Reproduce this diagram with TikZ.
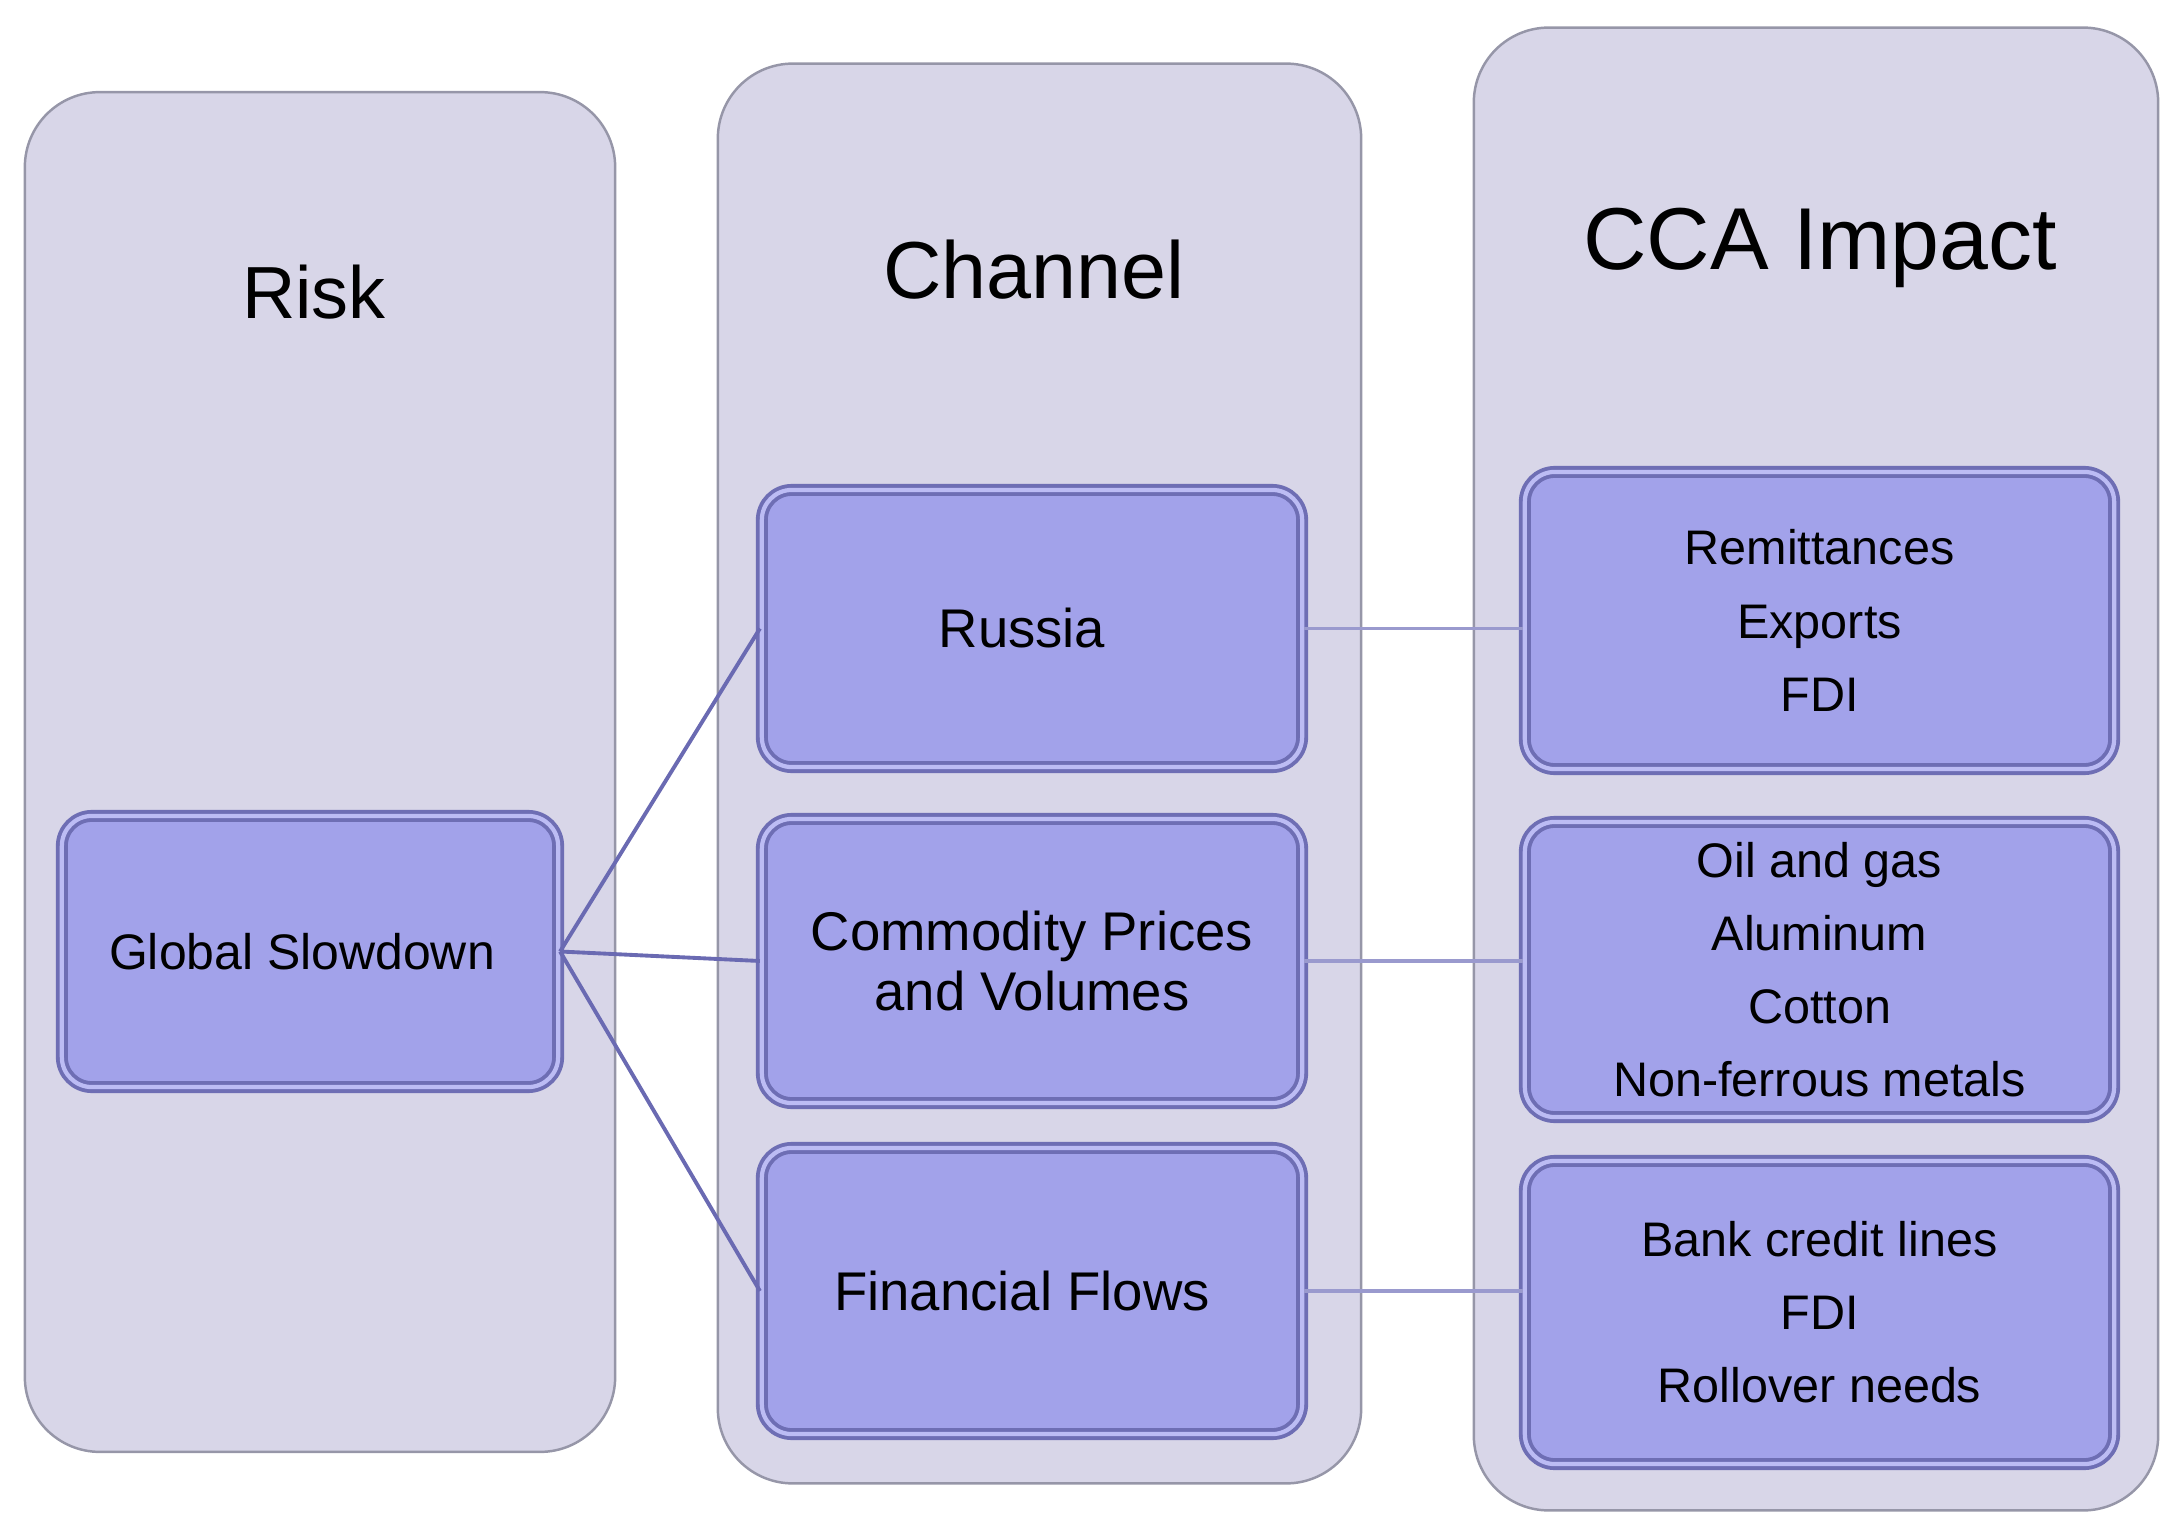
\documentclass[tikz,border=0pt]{standalone}
\usepackage{fontspec}
\setmainfont{Liberation Sans}
\usepackage{tikz}
\definecolor{CCAPanel}{RGB}{216,214,232}
\definecolor{CCAPanelEdge}{RGB}{150,150,168}
\definecolor{CCABox}{RGB}{162,162,234}
\definecolor{CCABoxEdge}{RGB}{110,110,180}
\definecolor{CCABoxLight}{RGB}{188,188,244}
\definecolor{CCALinkDark}{RGB}{106,106,178}
\definecolor{CCALinkLight}{RGB}{154,154,206}

\begin{document}
\begin{tikzpicture}[x=0.01cm,y=-0.01cm,
pnl/.style n args={2}{rectangle,fill=CCAPanel,draw=CCAPanelEdge,line width=0.7pt,rounded corners=0.75cm,minimum width=#1cm,minimum height=#2cm},
box/.style n args={2}{rectangle,fill=CCABox,draw=CCABoxEdge,double=CCABoxLight,double distance=1.2pt,line width=1.1pt,rounded corners=0.3cm,minimum width=#1cm,minimum height=#2cm,align=center,inner sep=0pt},
ttl/.style={font=\fontsize{#1}{#1}\selectfont},
lnk/.style={line width=1.1pt,#1}]
\useasboundingbox (0,0) rectangle (2162,1527);
% columns
\node[pnl={5.9}{13.59}](riskcol) at(320,772) {};
\node[pnl={6.43}{14.19}](chancol) at(1039.5,773.5) {};
\node[pnl={6.84}{14.82}](impcol) at(1816,769) {};
\node[ttl=21pt](risktitle) at(314,292) {Risk};
\node[ttl=23pt](chantitle) at(1034,270) {Channel};
\node[ttl=25pt](imptitle) at(1820,248) {CCA Impact};
% risk and channels
\node[box={4.96}{2.71},font=\fontsize{14.2pt}{17pt}\selectfont,text depth=0pt](slow) at(310,951.5) {\hspace*{-0.16cm}Global Slowdown};
\node[box={5.40}{2.77},font=\fontsize{15.5pt}{17pt}\selectfont](russia) at(1032,628.5) {\hspace*{-0.2cm}Russia};
\node[box={5.40}{2.84},font=\fontsize{15.5pt}{17pt}\selectfont](commod) at(1032,961) {Commodity Prices\\and Volumes};
\node[box={5.40}{2.86},font=\fontsize{15.5pt}{17pt}\selectfont](finflow) at(1032,1291) {\hspace*{-0.2cm}Financial Flows};
% impacts
\node[box={5.89}{2.97},font=\fontsize{13.8pt}{20.8pt}\selectfont](imprus) at(1819.5,620.5) {Remittances\\Exports\\FDI};
\node[box={5.89}{2.95},font=\fontsize{13.8pt}{20.8pt}\selectfont](impcom) at(1819.5,969.5) {Oil and gas\\Aluminum\\Cotton\\Non-ferrous metals};
\node[box={5.89}{3.03},font=\fontsize{13.8pt}{20.8pt}\selectfont](impfin) at(1819.5,1312.5) {Bank credit lines\\FDI\\Rollover needs};
\foreach \a in {russia,commod,finflow} {
   \draw[lnk=CCALinkDark] (slow.east) -- (\a.west);
}
\foreach \a/\b in {russia/imprus,commod/impcom,finflow/impfin} {
   \draw[lnk=CCALinkLight] (\a.east) -- (\a.east -| \b.west);
}
\end{tikzpicture}
\end{document}
